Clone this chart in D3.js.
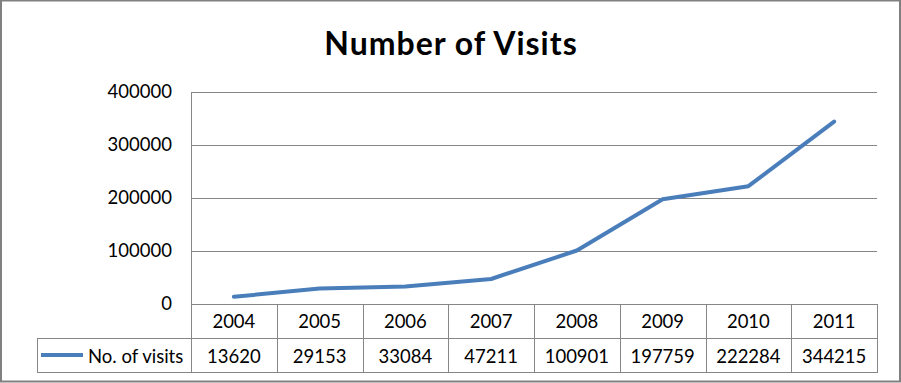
<!DOCTYPE html>
<html><head><meta charset="utf-8">
<script src="https://cdn.jsdelivr.net/npm/d3@7"></script>
<style>body{margin:0;background:#fff}svg{display:block}</style>
</head><body>
<script>
const years = ["2004","2005","2006","2007","2008","2009","2010","2011"];
const visits = [13620,29153,33084,47211,100901,197759,222284,344215];
const yTicks = [0,100000,200000,300000,400000];
const seriesName = "No. of visits";
const title = "Number of Visits";

(function(){
const W = 901, H = 383;
const grid = "#868686", lineColor = "#4A7EBB";
const font = "Lato, 'Open Sans', sans-serif";
const svg = d3.select("body").append("svg").attr("width", W).attr("height", H);
svg.append("rect").attr("width", W).attr("height", H).attr("fill", "#fff");

// frame
svg.append("rect").attr("x",1).attr("y",0.5).attr("width",W-2).attr("height",H-2)
  .attr("fill","none").attr("stroke","#808080").attr("stroke-width",2);

const pL = 191, pR = 877, pT = 92, pB = 304;
const row1 = 338, row2 = 372, legLeft = 37;

const x = d3.scaleBand().domain(years).range([pL, pR]);
const y = d3.scaleLinear().domain([0, 400000]).range([pB, pT]);

svg.append("text").attr("x", 451).attr("y", 55).attr("text-anchor","middle")
  .attr("font-family", font).attr("font-weight","bold").attr("font-size",32)
  .attr("letter-spacing", 1).attr("fill","#000").text(title);

// gridlines + y labels
const yAxis = d3.axisLeft(y).tickValues(yTicks).tickSize(0).tickPadding(19).tickFormat(d3.format("d"));
const ga = svg.append("g").attr("transform",`translate(${pL},0)`).call(yAxis);
ga.select(".domain").remove();
ga.selectAll("text").attr("font-family", font).attr("font-size",18.5).attr("fill","#000");
svg.append("g").selectAll("line").data(yTicks).join("line")
  .attr("x1", pL).attr("x2", pR).attr("y1", d => Math.round(y(d))+0.5).attr("y2", d => Math.round(y(d))+0.5)
  .attr("stroke", grid).attr("stroke-width",1);

// table lines
const tl = svg.append("g").attr("stroke", grid).attr("stroke-width",1).attr("fill","none");
tl.append("line").attr("x1",pL+0.5).attr("x2",pL+0.5).attr("y1",pT).attr("y2",row2);
years.forEach((yr,i) => {
  const xr = x(yr) + x.bandwidth();
  tl.append("line").attr("x1",Math.round(xr)+0.5).attr("x2",Math.round(xr)+0.5).attr("y1",pB).attr("y2",row2);
});
tl.append("line").attr("x1",legLeft).attr("x2",pR+1).attr("y1",row1+0.5).attr("y2",row1+0.5);
tl.append("line").attr("x1",legLeft).attr("x2",pR+1).attr("y1",row2+0.5).attr("y2",row2+0.5);
tl.append("line").attr("x1",legLeft+0.5).attr("x2",legLeft+0.5).attr("y1",row1).attr("y2",row2);

// table text
const fmt = d3.format("d");
svg.append("g").selectAll("text").data(years).join("text")
  .attr("x", d => x(d)+x.bandwidth()/2).attr("y", 328).attr("text-anchor","middle")
  .attr("font-family",font).attr("font-size",18.5).attr("fill","#000").text(d => d);
svg.append("g").selectAll("text").data(visits).join("text")
  .attr("x", (d,i) => x(years[i])+x.bandwidth()/2).attr("y", 362.5).attr("text-anchor","middle")
  .attr("font-family",font).attr("font-size",18.5).attr("fill","#000").text(d => fmt(d));

// legend
svg.append("line").attr("x1",41).attr("x2",83).attr("y1",355).attr("y2",355)
  .attr("stroke",lineColor).attr("stroke-width",4);
svg.append("text").attr("x",88).attr("y",362.5).attr("font-family",font).attr("font-size",18.5)
  .attr("fill","#000").text(seriesName);

// series line
const line = d3.line().x((d,i) => x(years[i])+x.bandwidth()/2).y(d => y(d));
svg.append("path").datum(visits).attr("d", line).attr("fill","none")
  .attr("stroke",lineColor).attr("stroke-width",4).attr("stroke-linejoin","round").attr("stroke-linecap","round");
})();
</script>
</body></html>
